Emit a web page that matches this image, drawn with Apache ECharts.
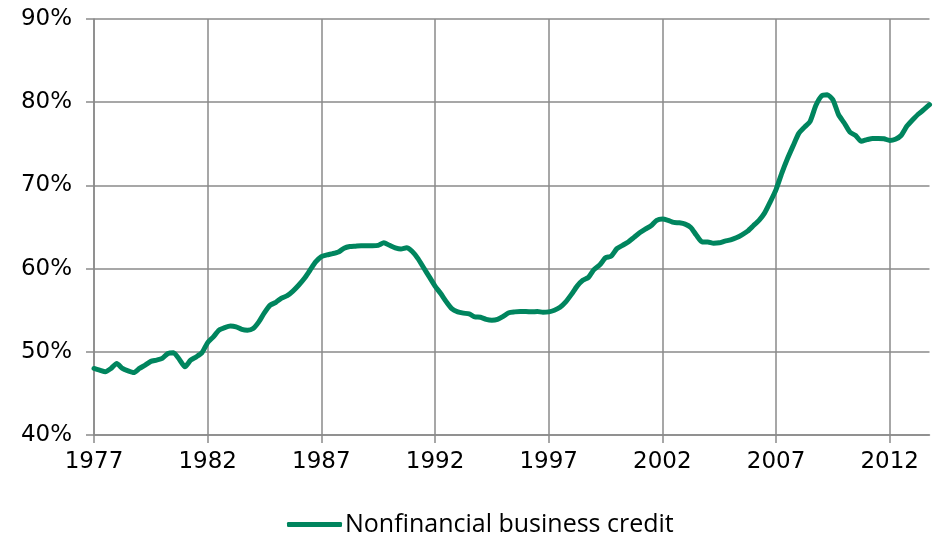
<!DOCTYPE html>
<html>
<head>
<meta charset="utf-8">
<script src="https://cdn.jsdelivr.net/npm/echarts@6/dist/echarts.min.js"></script>
<style>
html, body { margin: 0; padding: 0; background: #fff; }
#main { width: 937px; height: 539px; }
</style>
</head>
<body>
<div id="main"></div>
<script>
var myChart = echarts.init(document.getElementById('main'));

// quarterly, 1977 Q1 - 2013 Q4
var startYear = 1977;
var endYear = 2013;
var yTicks = [40, 50, 60, 70, 80, 90];
var seriesName = 'Nonfinancial business credit';
var credit = [
    48.0, 47.8, 47.6, 48.0, 48.6, 48.0, 47.7, 47.5,
    48.0, 48.4, 48.85, 49.0, 49.2, 49.8, 49.9, 49.1,
    48.2, 49.0, 49.4, 49.9, 51.1, 51.8, 52.6, 52.9,
    53.1, 53.0, 52.7, 52.6, 52.8, 53.6, 54.7, 55.6,
    55.95, 56.45, 56.75, 57.3, 58.0, 58.8, 59.8, 60.8,
    61.45, 61.65, 61.8, 62.0, 62.45, 62.65, 62.7, 62.75,
    62.75, 62.75, 62.8, 63.1, 62.8, 62.5, 62.35, 62.5,
    62.05, 61.2, 60.1, 59.0, 57.9, 57.0, 56.0, 55.15,
    54.8, 54.65, 54.55, 54.2, 54.15, 53.9, 53.8, 53.9,
    54.25, 54.7, 54.8, 54.85, 54.85, 54.8, 54.85, 54.75,
    54.8, 55.0, 55.35, 56.0, 56.9, 57.9, 58.6, 58.95,
    59.9, 60.45, 61.3, 61.5, 62.4, 62.8, 63.2, 63.75,
    64.3, 64.75, 65.15, 65.8, 65.95, 65.8, 65.55, 65.5,
    65.35, 64.95, 64.0, 63.2, 63.2, 63.05, 63.1, 63.3,
    63.45, 63.7, 64.05, 64.5, 65.15, 65.8, 66.7, 68.05,
    69.5, 71.45, 73.2, 74.75, 76.25, 77.0, 77.7, 79.6,
    80.75, 80.9, 80.3, 78.5, 77.5, 76.4, 76.0, 75.3,
    75.5, 75.65, 75.65, 75.6, 75.4, 75.55, 76.0, 77.1,
    77.85, 78.55, 79.1, 79.7
];

var quarters = [];
for (var y = startYear; y <= endYear; y++) {
    for (var q = 1; q <= 4; q++) {
        quarters.push(y + ' Q' + q);
    }
}

var gridColor = '#8a8a8a';
var labelFont = 'DejaVu Sans';

var option = {
    animation: false,
    grid: {
        left: 94,
        right: 7.5,
        top: 19,
        bottom: 104
    },
    legend: {
        data: [seriesName],
        left: 282,
        top: 507,
        icon: 'roundRect',
        itemWidth: 55,
        itemHeight: 5,
        itemGap: 0,
        textStyle: {
            color: '#000',
            fontFamily: 'Open Sans',
            fontSize: 25,
            padding: [0, 0, 0, -2]
        }
    },
    xAxis: {
        type: 'category',
        boundaryGap: false,
        data: quarters,
        axisLine: {
            show: true,
            lineStyle: { color: gridColor, width: 1.5 }
        },
        axisTick: {
            show: true,
            interval: 19,
            length: 8,
            lineStyle: { color: gridColor, width: 1.5 }
        },
        axisLabel: {
            interval: 19,
            margin: 16,
            color: '#000',
            fontFamily: labelFont,
            fontSize: 23,
            formatter: function (v) { return v.slice(0, 4); }
        },
        splitLine: {
            show: true,
            interval: 19,
            lineStyle: { color: gridColor, width: 1.5 }
        }
    },
    yAxis: {
        type: 'value',
        min: yTicks[0],
        max: yTicks[yTicks.length - 1],
        interval: 10,
        axisLine: {
            show: true,
            lineStyle: { color: gridColor, width: 1.5 }
        },
        axisTick: {
            show: true,
            length: 8,
            lineStyle: { color: gridColor, width: 1.5 }
        },
        axisLabel: {
            margin: 22,
            color: '#000',
            fontFamily: labelFont,
            fontSize: 23,
            formatter: '{value}%'
        },
        splitLine: {
            show: true,
            lineStyle: { color: gridColor, width: 1.5 }
        }
    },
    series: [
        {
            name: seriesName,
            type: 'line',
            data: credit,
            showSymbol: false,
            symbol: 'none',
            smooth: 0.2,
            itemStyle: { color: '#00855e' },
            lineStyle: { color: '#00855e', width: 5, cap: 'round', join: 'round' }
        }
    ]
};

myChart.setOption(option);
</script>
</body>
</html>
